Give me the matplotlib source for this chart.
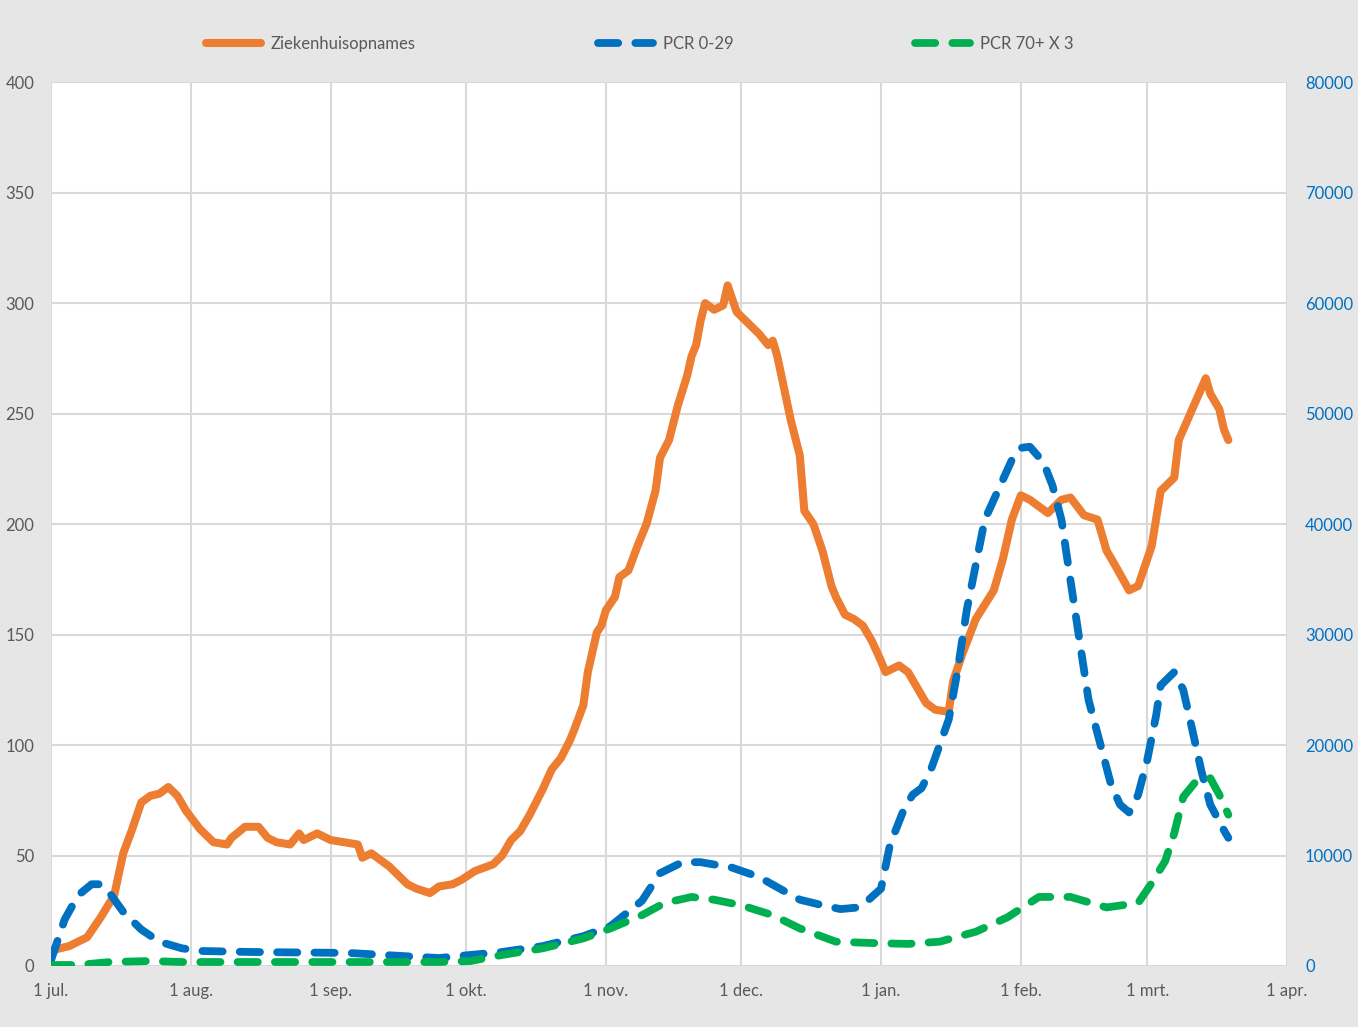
import pandas as pd
import matplotlib.pyplot as plt

plt.rcParams['font.family'] = ['Lato', 'DejaVu Sans']

start = pd.Timestamp('2021-07-01')

# Ziekenhuisopnames (left axis), days after 1 jul
zh_days = [0, 4, 8, 11, 14, 16, 18, 20, 22, 24, 26, 28, 30, 33, 36, 39, 40, 43, 46, 48,
           50, 53, 55, 56, 59, 62, 65, 68, 69, 71, 73, 75, 79, 81, 84, 86, 89, 91, 94, 98,
           100, 102, 104, 106, 109, 111, 113, 115, 116, 118, 119, 121, 122, 123, 125, 126, 128, 130, 132, 134,
           135, 137, 139, 141, 142, 143, 144, 145, 147, 149, 150, 152, 154, 156, 157, 159, 160, 161, 164, 166,
           167, 169, 171, 173, 174, 176, 178, 180, 182, 184, 185, 187, 188, 190, 192, 194, 196, 199, 200, 202,
           205, 209, 211, 213, 215, 217, 221, 224, 226, 229, 232, 234, 236, 239, 241, 244, 246, 249, 250, 253,
           256, 257, 259, 260, 261]
zh_vals = [7, 9, 13, 22, 32, 51, 62, 74, 77, 78, 81, 77, 70, 62, 56, 55, 58, 63, 63, 58,
           56, 55, 60, 57, 60, 57, 56, 55, 49, 51, 48, 45, 37, 35, 33, 36, 37, 39, 43, 46,
           50, 57, 61, 68, 80, 89, 94, 102, 107, 118, 133, 151, 154, 161, 167, 176, 179, 190, 200, 215,
           230, 238, 254, 267, 276, 281, 292, 300, 297, 299, 308, 296, 292, 288, 286, 281, 283, 276, 247, 231,
           206, 200, 188, 172, 167, 159, 157, 154, 147, 138, 133, 135, 136, 133, 126, 119, 116, 115, 129, 141,
           157, 170, 184, 202, 213, 211, 205, 211, 212, 204, 202, 188, 181, 170, 172, 190, 215, 221, 238, 252,
           266, 259, 252, 243, 238]

# PCR 0-29 (right axis)
pcr_days = [0, 3, 6, 9, 11, 13, 16, 20, 24, 29, 33, 44, 66, 78, 86, 93, 100, 109, 118, 124,
            131, 135, 140, 144, 151, 157, 162, 166, 171, 175, 179, 181, 184, 186, 189, 191, 193, 195, 199, 201,
            203, 205, 207, 210, 213, 215, 217, 220, 222, 224, 226, 228, 230, 233, 235, 237, 239, 241, 243, 245,
            246, 249, 251, 253, 255, 257, 260, 261]
pcr_vals = [540, 4200, 6400, 7400, 7400, 6600, 4900, 3300, 2200, 1600, 1360, 1270, 1180, 900, 720, 1000, 1270, 1800, 2700, 3600,
            5900, 8400, 9400, 9400, 8900, 8050, 6900, 6000, 5500, 5150, 5300, 5900, 7000, 11000, 14100, 15500, 16100, 17700, 22300, 26800,
            32200, 36300, 40400, 43100, 45800, 46900, 47000, 45600, 43500, 40400, 34900, 29500, 24100, 19500, 16400, 14600, 13900, 15500, 18600, 22700,
            25400, 26600, 25000, 21400, 17700, 14600, 12300, 11600]

# PCR 70+ x 3 (right axis)
oud_days = [0, 6, 13, 22, 29, 44, 66, 86, 93, 100, 109, 118, 124, 131, 136, 142, 147, 153, 160, 166,
            174, 182, 190, 197, 205, 212, 219, 226, 234, 241, 244, 247, 249, 251, 254, 257, 259, 261]
oud_vals = [90, 90, 360, 450, 360, 360, 360, 360, 450, 1000, 1600, 2500, 3400, 4600, 5700, 6250, 6000, 5500, 4600, 3400,
            2200, 2080, 2000, 2200, 3100, 4400, 6250, 6250, 5300, 5700, 7500, 9500, 12000, 15300, 16800, 17000, 15500, 13700]

month_labels = ['1 jul.', '1 aug.', '1 sep.', '1 okt.', '1 nov.', '1 dec.',
                '1 jan.', '1 feb.', '1 mrt.', '1 apr.']

def to_dates(days):
    return start + pd.to_timedelta(days, unit='D')

bg = '#e7e6e6'
fig = plt.figure(figsize=(13.58, 10.27), dpi=100, facecolor=bg)
ax = fig.add_axes([0.0376, 0.0594, 0.9101, 0.8606])
ax.set_facecolor('white')
ax2 = ax.twinx()

l1, = ax.plot(to_dates(zh_days), zh_vals, color='#ed7d31', lw=5.8,
              solid_capstyle='round', solid_joinstyle='round', label='Ziekenhuisopnames')
l2, = ax2.plot(to_dates(pcr_days), pcr_vals, color='#0070c0', lw=5.6,
               dashes=(2.6, 2.2), dash_capstyle='round', label='PCR 0-29')
l3, = ax2.plot(to_dates(oud_days), oud_vals, color='#00b050', lw=5.6,
               dashes=(2.6, 2.2), dash_capstyle='round', label='PCR 70+ X 3')

ticks = pd.date_range('2021-07-01', '2022-04-01', freq='MS')
ax.set_xlim(ticks[0], ticks[-1])
ax.set_xticks(ticks)
ax.set_xticklabels(month_labels)
ax.set_ylim(0, 400)
ax.set_yticks(range(0, 401, 50))
ax2.set_ylim(0, 80000)
ax2.set_yticks(range(0, 80001, 10000))

ax.grid(True, color='#d9d9d9', lw=1.5)
ax.set_axisbelow(True)
for a in (ax, ax2):
    for s in a.spines.values():
        s.set_visible(False)
ax.tick_params(axis='both', length=0, labelsize=12, labelcolor='#595959')
ax.tick_params(axis='x', pad=12)
ax.tick_params(axis='y', pad=12)
ax2.tick_params(axis='y', length=0, labelsize=12, labelcolor='#0070c0', pad=13)

fig.legend(handles=[l1, l2, l3], loc='center', bbox_to_anchor=(0.471, 0.957), ncol=3,
           frameon=False, fontsize=12, labelcolor='#595959', columnspacing=10.9,
           handlelength=3.3, handletextpad=0.6)

fig.savefig('out.png', dpi=100, facecolor=bg)
